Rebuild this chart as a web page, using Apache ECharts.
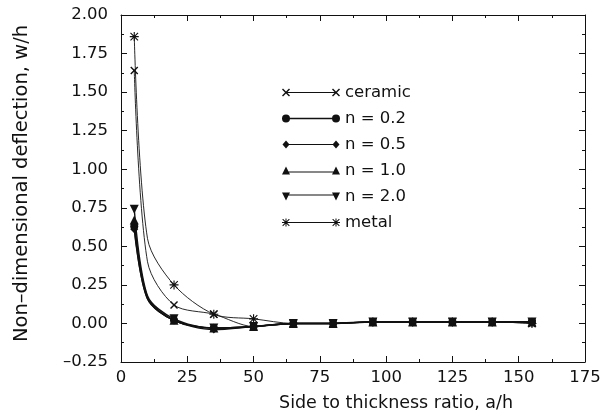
<!DOCTYPE html>
<html>
<head>
<meta charset="utf-8">
<script src="https://cdn.jsdelivr.net/npm/echarts@6/dist/echarts.min.js"></script>
<style>
  html, body { margin: 0; padding: 0; background: #fff; }
  #chart { width: 609px; height: 420px; }
</style>
</head>
<body>
<div id="chart"></div>
<script>
// side to thickness ratio a/h (the 10 point has no marker in the original)
const ratios = [5, 10, 20, 35, 50, 65, 80, 95, 110, 125, 140, 155];
const hiddenAt = 10;

const ceramic = [1.64, 0.40, 0.12, 0.06, -0.02, 0.00, 0.00, 0.01, 0.01, 0.01, 0.01, 0.00];
const n02 = [0.63, 0.16, 0.02, -0.03, -0.02, 0.00, 0.00, 0.01, 0.01, 0.01, 0.01, 0.01];
const n05 = [0.61, 0.16, 0.02, -0.04, -0.02, 0.00, 0.00, 0.01, 0.01, 0.01, 0.01, 0.01];
const n10 = [0.67, 0.17, 0.02, -0.03, -0.02, 0.00, 0.00, 0.01, 0.01, 0.01, 0.01, 0.01];
const n20 = [0.74, 0.18, 0.03, -0.03, -0.02, 0.00, 0.00, 0.01, 0.01, 0.01, 0.01, 0.01];
const metal = [1.86, 0.55, 0.25, 0.06, 0.03, 0.00, 0.00, 0.01, 0.01, 0.01, 0.01, 0.00];

const seriesNames = ['ceramic', 'n = 0.2', 'n = 0.5', 'n = 1.0', 'n = 2.0', 'metal'];

const ink = '#111';
const font = 'DejaVu Sans, Verdana, sans-serif';

// marker shapes (8x8 box), dx shifts them for the legend icon
function crossPath(dx) {
  return `M${dx},1 L${dx+1},0 L${dx+4},3 L${dx+7},0 L${dx+8},1 L${dx+5},4 L${dx+8},7 L${dx+7},8 L${dx+4},5 L${dx+1},8 L${dx},7 L${dx+3},4 Z`;
}
function circlePath(dx) {
  return `M${dx},4 A4,4 0 1,1 ${dx+8},4 A4,4 0 1,1 ${dx},4 Z`;
}
function diamondPath(dx) {
  return `M${dx+0.5},4 L${dx+4},0 L${dx+7.5},4 L${dx+4},8 Z`;
}
function triUpPath(dx) {
  return `M${dx},8 L${dx+4},0 L${dx+8},8 Z`;
}
function triDownPath(dx) {
  return `M${dx},0 L${dx+8},0 L${dx+4},8 Z`;
}
function starPath(dx) {
  return `M${dx},3.5 L${dx+8},3.5 L${dx+8},4.5 L${dx},4.5 Z ` +
    `M${dx+3.5},0 L${dx+4.5},0 L${dx+4.5},8 L${dx+3.5},8 Z ` +
    `M${dx+1},0.3 L${dx+7.7},7 L${dx+7},7.7 L${dx+0.3},1 Z ` +
    `M${dx+7},0.3 L${dx+7.7},1 L${dx+1},7.7 L${dx+0.3},7 Z`;
}
const legendW = 58;
function legendIcon(fn, y, thick) {
  const h = thick / 2;
  return 'path://' + fn(0) + ` M4,${y - h} L${legendW - 4},${y - h} L${legendW - 4},${y + h} L4,${y + h} Z ` + fn(legendW - 8);
}

const styles = [
  { shape: crossPath, size: 8, width: 0.9, lineY: 4, thick: 0.8 },
  { shape: circlePath, size: 8, width: 1.6, lineY: 4, thick: 1.3 },
  { shape: diamondPath, size: 8, width: 1.4, lineY: 4, thick: 1.1 },
  { shape: triUpPath, size: 9, width: 1.4, lineY: 5.5, thick: 1.1 },
  { shape: triDownPath, size: 9, width: 1.4, lineY: 2.5, thick: 1.1 },
  { shape: starPath, size: 9, width: 0.9, lineY: 4, thick: 0.8 }
];
const values = [ceramic, n02, n05, n10, n20, metal];

function pairs(vals) {
  return ratios.map((x, i) => x === hiddenAt ? { value: [x, vals[i]], symbol: 'none' } : [x, vals[i]]);
}

const chart = echarts.init(document.getElementById('chart'));

const tickStyle = { lineStyle: { color: ink, width: 1 } };

chart.setOption({
  animation: false,
  backgroundColor: '#fff',
  textStyle: { fontFamily: font, color: ink },
  grid: { left: 121, right: 24, top: 15, bottom: 58 },
  legend: {
    orient: 'vertical',
    left: 277,
    top: 79,
    itemWidth: legendW,
    itemHeight: 8,
    itemGap: 9,
    textStyle: { fontSize: 16.5, color: ink, fontFamily: font },
    data: seriesNames.map((name, i) => ({
      name: name,
      icon: legendIcon(styles[i].shape, styles[i].lineY, styles[i].thick),
      itemStyle: { color: ink, borderWidth: 0 }
    }))
  },
  xAxis: [
    {
      type: 'value',
      min: 0, max: 175, interval: 25,
      name: 'Side to thickness ratio, a/h',
      nameLocation: 'middle',
      nameGap: 32,
      nameTextStyle: { fontSize: 17.5, color: ink, fontFamily: font, padding: [0, 0, 0, 86] },
      axisLine: { show: true, onZero: false, lineStyle: { color: ink, width: 1 } },
      axisTick: { inside: true, length: 6, ...tickStyle },
      minorTick: { show: true, splitNumber: 2, length: 3, ...tickStyle },
      axisLabel: { fontSize: 16.5, color: ink, fontFamily: font, margin: 7 },
      splitLine: { show: false }
    },
    {
      type: 'value',
      position: 'top',
      min: 0, max: 175, interval: 25,
      axisLine: { show: true, onZero: false, lineStyle: { color: ink, width: 1 } },
      axisTick: { inside: true, length: 6, ...tickStyle },
      minorTick: { show: true, splitNumber: 2, length: 3, ...tickStyle },
      axisLabel: { show: false },
      splitLine: { show: false }
    }
  ],
  yAxis: [
    {
      type: 'value',
      min: -0.25, max: 2.0, interval: 0.25,
      name: 'Non\u2013dimensional deflection, w/h',
      nameLocation: 'middle',
      nameGap: 89,
      nameTextStyle: { fontSize: 19.5, color: ink, fontFamily: font, padding: [0, 0, 0, 10] },
      axisLine: { show: true, onZero: false, lineStyle: { color: ink, width: 1 } },
      axisTick: { inside: true, length: 6, ...tickStyle },
      minorTick: { show: true, splitNumber: 2, length: 3, ...tickStyle },
      axisLabel: {
        fontSize: 16.5, color: ink, fontFamily: font, margin: 13,
        formatter: v => v.toFixed(2).replace('-', '\u2013')
      },
      splitLine: { show: false }
    },
    {
      type: 'value',
      position: 'right',
      min: -0.25, max: 2.0, interval: 0.25,
      axisLine: { show: true, onZero: false, lineStyle: { color: ink, width: 1 } },
      axisTick: { inside: true, length: 6, ...tickStyle },
      minorTick: { show: true, splitNumber: 2, length: 3, ...tickStyle },
      axisLabel: { show: false },
      splitLine: { show: false }
    }
  ],
  series: seriesNames.map((name, i) => ({
    name: name,
    type: 'line',
    data: pairs(values[i]),
    smooth: 0.3,
    symbol: 'path://' + styles[i].shape(0),
    symbolSize: styles[i].size,
    lineStyle: { color: ink, width: styles[i].width },
    itemStyle: { color: ink, borderWidth: 0 },
    z: 2 + i
  }))
});
</script>
</body>
</html>
